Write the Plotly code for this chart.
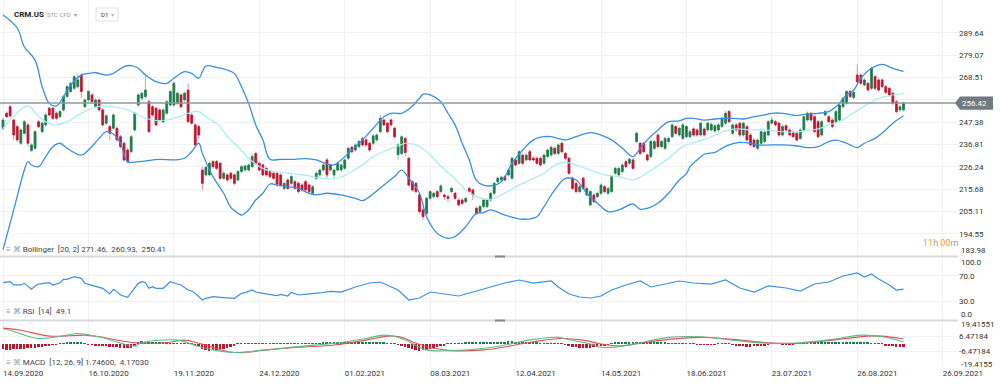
import plotly.graph_objects as go

# ---------------- data ----------------
symbol = "CRM.US"
date_labels = ["14.09.2020", "16.10.2020", "19.11.2020", "24.12.2020", "01.02.2021", "08.03.2021",
               "12.04.2021", "14.05.2021", "18.06.2021", "23.07.2021", "26.08.2021", "26.09.2021"]
bars_per_label = 24

opens = [244.5, 251.6, 254.7, 248.4, 245.3, 237.4, 242.1, 246.1, 234.0, 235.0, 247.6, 242.9, 246.1, 254.0, 254.0, 251.6,
         250.0, 253.2, 259.5, 261.9, 263.4, 264.2, 269.7, 254.7, 257.9, 260.3, 254.7, 257.9, 253.2, 246.9, 245.3, 244.5,
         244.5, 240.5, 237.4, 234.2, 233.4, 243.7, 255.5, 258.7, 259.5, 257.1, 254.7, 254.0, 253.2, 247.6, 251.6, 255.5,
         255.5, 256.3, 260.3, 257.9, 262.6, 250.8, 246.1, 245.3, 224.7, 222.4, 222.4, 228.7, 228.7, 227.9, 220.8, 222.4,
         223.2, 222.4, 220.0, 224.0, 224.7, 224.7, 226.3, 232.6, 227.9, 227.1, 225.5, 224.0, 223.2, 223.2, 222.4, 216.0,
         220.0, 218.4, 219.2, 218.4, 217.6, 219.2, 217.6, 213.7, 220.8, 222.4, 224.7, 229.5, 224.7, 222.4, 224.7, 224.7,
         225.5, 230.3, 235.5, 234.2, 235.8, 239.7, 239.0, 237.4, 237.4, 239.0, 242.9, 248.4, 246.9, 248.4, 244.5, 232.0,
         232.6, 239.7, 230.3, 219.2, 218.4, 212.9, 205.8, 204.2, 211.3, 212.1, 214.5, 214.5, 212.9, 212.1, 214.5, 213.7,
         210.5, 210.5, 209.7, 216.0, 215.3, 206.6, 205.0, 207.4, 207.4, 210.5, 213.7, 219.2, 220.0, 221.6, 222.4, 220.8,
         229.5, 227.9, 231.8, 229.5, 233.4, 230.3, 230.3, 230.3, 227.9, 231.1, 231.8, 235.0, 232.6, 237.4, 232.6, 230.3,
         220.8, 218.4, 214.5, 220.8, 212.9, 208.2, 212.9, 212.1, 213.7, 216.8, 213.7, 214.5, 223.2, 222.4, 224.0, 228.7,
         227.9, 229.5, 238.2, 237.4, 237.4, 231.8, 231.1, 235.0, 241.3, 235.8, 235.0, 238.2, 240.5, 245.3, 241.3, 239.7,
         240.5, 240.5, 244.2, 243.7, 241.3, 244.2, 243.7, 243.7, 243.2, 243.7, 245.3, 246.9, 252.4, 242.1, 246.1, 246.9,
         241.3, 245.3, 241.3, 238.9, 235.0, 237.4, 238.2, 241.3, 246.9, 247.6, 246.9, 241.3, 245.7, 243.7, 242.6, 242.1,
         239.7, 243.7, 248.4, 251.6, 250.0, 247.6, 241.3, 250.8, 250.0, 248.4, 247.6, 248.4, 254.7, 256.3, 261.9, 259.0,
         269.7, 269.7, 265.0, 265.8, 263.4, 269.0, 267.4, 267.4, 264.2, 263.4, 261.1, 257.1, 253.2, 253.2]
highs = [249.5, 252.5, 255.5, 249.0, 246.0, 244.5, 248.4, 247.0, 237.4, 243.7, 248.4, 247.6, 252.0, 254.7, 254.7, 252.4,
         253.2, 260.3, 265.0, 266.6, 269.7, 270.5, 270.5, 258.7, 262.6, 261.1, 258.7, 258.7, 254.0, 251.2, 246.1, 251.6,
         245.3, 241.3, 238.2, 235.0, 241.3, 252.4, 261.1, 261.9, 270.5, 257.9, 255.5, 254.7, 254.0, 254.0, 257.9, 262.6,
         266.6, 261.9, 261.1, 261.9, 265.8, 251.6, 246.9, 246.1, 226.3, 226.8, 228.7, 229.5, 229.5, 228.7, 224.0, 223.2,
         224.0, 223.2, 224.7, 227.1, 227.4, 227.9, 232.6, 233.4, 228.7, 227.9, 226.3, 224.7, 224.0, 224.0, 223.2, 219.2,
         220.8, 222.4, 220.0, 219.2, 218.4, 220.0, 218.4, 217.6, 224.0, 225.5, 227.9, 230.3, 227.9, 225.5, 228.7, 227.9,
         230.3, 235.8, 236.3, 237.4, 239.0, 240.5, 239.7, 238.2, 241.7, 242.1, 250.8, 249.2, 247.6, 249.2, 245.3, 237.4,
         241.3, 240.5, 231.1, 220.0, 219.2, 213.7, 206.6, 212.1, 215.3, 214.5, 215.3, 218.0, 213.7, 212.9, 216.8, 214.5,
         211.3, 211.3, 212.1, 216.8, 216.0, 207.4, 208.2, 211.3, 211.3, 214.5, 219.2, 221.6, 222.1, 222.4, 225.5, 231.1,
         230.3, 234.2, 232.6, 232.6, 234.2, 231.1, 231.1, 231.1, 232.6, 235.0, 236.3, 235.8, 237.4, 238.2, 233.4, 231.1,
         221.6, 219.2, 217.6, 221.6, 216.8, 215.3, 213.7, 214.5, 218.4, 217.6, 216.8, 222.4, 226.3, 226.3, 227.9, 229.5,
         230.6, 230.3, 242.9, 238.2, 238.2, 232.6, 239.0, 239.0, 242.1, 239.0, 240.5, 240.5, 246.9, 246.1, 245.3, 246.9,
         246.1, 243.7, 245.0, 244.5, 247.6, 245.0, 247.6, 247.2, 246.4, 246.9, 250.0, 252.7, 253.2, 246.9, 246.9, 247.6,
         247.6, 246.1, 242.1, 239.7, 239.7, 243.7, 243.4, 248.4, 250.0, 248.4, 247.6, 246.1, 246.4, 244.5, 243.4, 242.9,
         244.5, 250.8, 252.4, 252.4, 250.8, 248.4, 248.4, 253.2, 250.8, 249.2, 253.2, 256.3, 259.5, 262.6, 262.6, 262.3,
         274.8, 270.5, 268.2, 266.6, 273.7, 269.7, 268.2, 268.2, 265.0, 264.2, 261.9, 257.9, 255.5, 257.1]
lows = [243.5, 249.3, 249.5, 239.0, 238.0, 236.6, 241.5, 235.8, 233.4, 234.2, 244.5, 242.1, 245.3, 250.0, 248.4, 248.4,
        249.2, 252.4, 258.7, 261.1, 262.6, 263.4, 258.7, 254.0, 257.1, 256.3, 254.0, 252.4, 245.3, 246.1, 239.0, 243.7,
        238.2, 235.0, 228.7, 227.9, 232.6, 242.9, 254.7, 257.9, 258.7, 242.1, 250.0, 245.3, 247.6, 246.9, 250.8, 254.7,
        254.7, 255.5, 254.0, 257.1, 246.9, 246.1, 235.8, 239.5, 215.3, 221.6, 221.6, 225.5, 224.7, 220.0, 220.0, 219.2,
        220.0, 217.6, 219.2, 223.2, 224.0, 224.0, 225.5, 227.1, 224.0, 221.6, 221.6, 220.8, 220.0, 216.8, 216.8, 215.3,
        215.3, 217.6, 215.3, 213.7, 214.5, 214.5, 213.7, 213.0, 220.0, 221.6, 224.0, 220.8, 224.0, 220.8, 224.0, 224.0,
        224.7, 229.5, 232.6, 233.4, 235.0, 235.8, 235.8, 233.4, 236.6, 238.2, 242.1, 245.3, 242.1, 245.3, 239.7, 229.5,
        231.8, 231.1, 216.8, 214.5, 213.7, 204.2, 201.1, 203.4, 210.5, 211.3, 211.3, 213.7, 210.5, 209.7, 213.7, 210.5,
        207.4, 208.2, 208.9, 213.7, 210.5, 203.4, 204.2, 206.6, 206.6, 209.7, 212.9, 218.4, 219.2, 219.2, 221.6, 220.0,
        226.3, 227.1, 227.1, 228.7, 228.7, 228.7, 227.1, 226.3, 227.1, 230.3, 231.1, 231.8, 231.8, 232.6, 229.5, 222.4,
        215.3, 213.7, 213.7, 215.3, 212.1, 207.4, 208.9, 211.3, 212.9, 213.7, 212.9, 213.7, 222.4, 221.6, 223.2, 225.5,
        227.1, 224.7, 237.4, 231.8, 232.6, 228.7, 230.3, 234.2, 235.0, 235.0, 234.2, 237.4, 239.7, 241.3, 240.5, 239.0,
        239.7, 239.7, 240.5, 240.5, 240.5, 240.5, 242.9, 242.9, 242.4, 242.9, 244.5, 246.1, 246.9, 241.3, 242.9, 240.5,
        240.5, 238.2, 235.8, 235.0, 234.2, 236.6, 237.4, 240.5, 246.1, 245.3, 240.5, 240.5, 242.9, 240.5, 239.7, 238.2,
        238.9, 242.9, 247.6, 247.6, 242.1, 239.7, 240.5, 250.0, 246.9, 244.5, 246.9, 247.6, 253.9, 255.5, 258.7, 258.2,
        265.8, 265.0, 264.2, 261.9, 262.6, 262.6, 261.9, 263.4, 260.7, 259.5, 255.5, 251.6, 252.4, 252.4]
closes = [248.4, 250.0, 250.3, 241.3, 239.0, 243.7, 247.6, 237.4, 236.6, 242.9, 245.3, 246.9, 250.8, 250.8, 249.2, 249.2,
          252.4, 259.5, 264.2, 265.8, 268.9, 267.4, 261.9, 257.9, 261.9, 257.1, 257.9, 253.2, 246.1, 250.4, 242.1, 250.8,
          239.0, 235.8, 229.5, 228.7, 240.5, 251.6, 260.3, 261.1, 262.6, 242.9, 250.8, 246.1, 248.4, 253.2, 257.1, 261.9,
          265.8, 261.1, 254.7, 261.1, 247.6, 246.9, 236.6, 241.3, 218.4, 226.0, 227.9, 226.3, 225.5, 220.8, 223.2, 220.0,
          220.8, 218.4, 224.0, 226.3, 226.6, 227.1, 231.1, 227.9, 224.7, 222.4, 222.4, 221.6, 220.8, 218.0, 217.6, 218.4,
          216.0, 221.6, 216.0, 214.5, 215.3, 215.3, 214.5, 216.8, 223.2, 224.7, 227.1, 222.4, 227.1, 224.7, 227.9, 227.1,
          229.5, 235.0, 233.4, 236.6, 238.2, 236.6, 236.6, 234.2, 240.9, 241.3, 249.2, 246.1, 242.9, 246.1, 240.5, 236.6,
          240.5, 233.0, 217.6, 215.3, 214.5, 205.0, 202.6, 211.3, 214.5, 213.7, 212.1, 217.2, 212.1, 211.3, 216.0, 211.3,
          208.2, 208.9, 211.3, 214.5, 212.9, 204.2, 207.4, 210.5, 210.5, 213.7, 218.4, 220.8, 221.3, 220.0, 224.7, 230.3,
          227.1, 233.4, 227.9, 231.8, 229.5, 229.5, 227.9, 227.1, 231.8, 234.2, 235.5, 232.6, 236.6, 233.4, 230.3, 223.2,
          216.0, 214.5, 216.8, 216.0, 216.0, 214.5, 209.7, 213.7, 217.6, 214.5, 216.0, 221.6, 225.5, 225.5, 227.1, 226.3,
          229.8, 225.5, 242.1, 232.6, 233.4, 229.5, 238.2, 238.2, 235.8, 238.2, 239.7, 239.7, 246.1, 242.1, 244.5, 246.1,
          245.3, 242.9, 241.3, 241.3, 246.9, 241.3, 246.9, 246.4, 245.7, 246.1, 249.2, 251.6, 247.6, 246.1, 243.7, 241.3,
          246.9, 238.9, 236.6, 235.8, 238.9, 242.9, 242.6, 247.6, 248.4, 246.1, 241.3, 245.3, 243.7, 241.3, 240.5, 238.9,
          243.7, 250.0, 251.6, 248.4, 242.9, 240.5, 247.6, 252.4, 247.6, 245.3, 252.4, 255.5, 258.7, 261.9, 259.5, 261.5,
          266.6, 265.8, 267.4, 262.6, 272.9, 263.4, 262.6, 264.2, 261.5, 260.3, 256.3, 252.4, 254.7, 256.42]

# Bollinger (20, 2) bands, read at sample bars
bb_upper_idx = [0, 4, 6, 9, 11, 13, 15, 17, 19, 22, 24, 26, 29, 31, 34, 36, 38, 40, 43, 46, 48, 51, 53, 55, 56, 57, 60,
                63, 65, 67, 69, 71, 73, 75, 78, 82, 85, 88, 91, 93, 95, 97, 101, 104, 107, 109, 112, 114, 117, 118, 120,
                123, 125, 127, 129, 131, 133, 135, 137, 140, 143, 146, 149, 152, 154, 158, 161, 165, 168, 171, 174, 177,
                179, 181, 184, 187, 190, 192, 194, 197, 200, 202, 205, 208, 211, 214, 216, 219, 223, 225, 229, 232, 234,
                237, 239, 241, 244, 247, 250, 253]
bb_upper = [298.2, 292.0, 283.0, 276.8, 264.2, 256.3, 255.1, 259.5, 265.0, 269.7, 270.5, 270.8, 269.7, 270.5, 273.7,
            274.2, 272.9, 269.7, 266.6, 265.8, 268.2, 271.3, 270.5, 268.2, 271.3, 274.0, 273.4, 272.1, 270.5, 264.2,
            256.3, 246.1, 239.0, 229.8, 229.8, 229.8, 230.1, 229.5, 227.6, 227.1, 229.5, 232.6, 239.0, 244.5, 250.0,
            251.6, 251.6, 253.5, 258.7, 260.6, 260.3, 257.1, 251.6, 246.1, 237.4, 229.5, 219.7, 217.6, 217.2, 219.2,
            227.9, 234.2, 239.0, 240.5, 240.5, 239.0, 240.5, 242.4, 241.3, 239.0, 235.0, 231.1, 235.0, 239.0, 243.7,
            247.6, 248.0, 249.2, 249.2, 248.4, 248.9, 249.2, 249.2, 248.9, 250.0, 250.8, 251.6, 251.6, 250.5, 251.1,
            251.6, 252.4, 254.7, 260.3, 262.6, 268.2, 272.9, 274.8, 272.9, 271.46]
bb_mid_idx = [0, 7, 10, 14, 18, 22, 25, 28, 31, 35, 38, 42, 46, 50, 52, 55, 57, 61, 63, 66, 69, 73, 76, 80, 84, 88, 91,
              94, 97, 101, 104, 108, 111, 113, 116, 119, 123, 127, 130, 133, 137, 140, 144, 148, 152, 155, 158, 161,
              165, 169, 173, 177, 180, 183, 187, 191, 195, 199, 202, 206, 210, 214, 217, 221, 225, 229, 232, 235, 238,
              241, 244, 246, 249, 251, 253]
bb_mid = [244.5, 255.1, 250.0, 246.1, 247.6, 251.6, 254.0, 255.1, 254.7, 253.2, 250.8, 248.4, 248.4, 250.3, 251.6,
          252.4, 250.0, 245.3, 240.5, 235.8, 230.3, 225.5, 224.0, 223.2, 222.4, 221.3, 220.5, 220.8, 223.2, 227.1,
          231.1, 234.2, 236.1, 237.4, 236.6, 233.4, 226.5, 220.5, 215.3, 212.1, 210.8, 212.9, 216.8, 220.0, 223.2,
          227.0, 228.5, 227.1, 224.7, 222.4, 221.6, 220.0, 222.4, 225.5, 230.3, 235.8, 238.2, 240.5, 242.6, 244.2,
          243.7, 243.7, 243.2, 242.6, 243.2, 244.2, 246.1, 247.6, 250.8, 253.9, 257.1, 258.7, 259.9, 260.5, 260.93]
bb_lower_idx = [0, 3, 6, 7, 8, 10, 12, 14, 16, 18, 22, 24, 27, 29, 31, 33, 35, 38, 44, 48, 51, 53, 55, 56, 59, 62, 64,
                65, 67, 69, 71, 73, 75, 77, 80, 83, 86, 88, 91, 95, 99, 101, 103, 107, 110, 112, 114, 117, 119, 122,
                125, 127, 130, 133, 135, 137, 141, 146, 150, 152, 155, 158, 161, 164, 167, 170, 173, 177, 179, 181, 184,
                187, 190, 192, 193, 195, 197, 200, 202, 204, 207, 210, 212, 216, 219, 223, 227, 229, 232, 234, 237, 240,
                242, 245, 248, 250, 253]
bb_lower = [187.0, 205.8, 224.7, 228.7, 227.1, 226.3, 231.1, 235.8, 237.4, 235.0, 231.8, 234.2, 239.7, 242.9, 241.8,
            237.4, 228.7, 228.7, 229.8, 229.5, 230.3, 233.4, 237.4, 232.6, 221.6, 213.7, 207.0, 205.5, 203.4, 205.8,
            210.5, 213.7, 218.1, 217.6, 216.8, 216.0, 213.7, 212.9, 213.7, 212.9, 211.3, 210.2, 212.1, 217.6, 221.6,
            224.7, 220.8, 213.7, 202.6, 194.7, 192.4, 193.2, 197.9, 204.2, 204.5, 205.8, 203.4, 201.4, 202.6, 207.4,
            215.3, 220.8, 220.0, 213.7, 209.0, 205.0, 205.8, 208.6, 206.1, 206.6, 209.0, 213.7, 220.0, 223.0, 226.3,
            229.5, 232.2, 233.1, 235.0, 236.6, 237.8, 237.4, 236.6, 236.6, 236.6, 236.1, 235.3, 235.8, 238.2, 238.9,
            237.4, 235.3, 237.4, 239.7, 243.7, 246.9, 250.41]

# RSI (14), read at sample bars
rsi_idx = [0, 2, 3, 5, 6, 8, 9, 10, 13, 14, 16, 17, 18, 20, 22, 23, 24, 26, 28, 30, 31, 32, 33, 35, 36, 38, 39, 40, 41,
           42, 43, 45, 46, 47, 49, 50, 52, 53, 54, 56, 57, 59, 61, 63, 65, 67, 68, 70, 71, 73, 75, 77, 78, 80, 81, 83,
           86, 89, 92, 95, 99, 103, 106, 109, 111, 114, 117, 120, 124, 128, 133, 137, 141, 145, 149, 154, 156, 159, 162,
           165, 168, 171, 175, 179, 182, 186, 190, 194, 199, 203, 207, 211, 215, 220, 224, 228, 232, 236, 240, 242, 244,
           246, 249, 251, 253]
rsi_val = [59.2, 60.8, 55.6, 55.6, 58.2, 48.7, 54.0, 57.1, 59.2, 55.6, 59.2, 64.6, 64.6, 68.8, 66.1, 58.2, 56.6, 52.9,
           50.3, 41.3, 48.7, 45.0, 39.7, 36.0, 43.4, 58.2, 60.8, 59.2, 50.3, 52.9, 50.3, 50.3, 55.6, 60.8, 57.1, 55.6,
           47.6, 46.0, 42.3, 31.7, 34.4, 37.0, 36.0, 35.4, 34.4, 42.3, 43.4, 47.6, 44.4, 42.3, 40.7, 38.6, 40.7, 38.1,
           43.9, 39.7, 41.5, 42.9, 45.5, 44.4, 52.4, 58.7, 60.3, 52.4, 47.6, 31.7, 34.9, 44.4, 41.3, 38.1, 46.0, 52.4,
           58.7, 63.5, 58.7, 61.9, 52.4, 41.3, 36.5, 34.9, 38.1, 47.6, 55.6, 61.9, 52.4, 57.1, 61.9, 58.7, 57.1, 63.5,
           50.8, 44.4, 54.0, 50.8, 46.0, 57.1, 60.3, 69.8, 74.6, 68.3, 73.0, 65.1, 55.6, 47.6, 49.1]

# MACD (12, 26, 9)
macd_idx = [0, 2, 10, 18, 21, 27, 37, 39, 49, 55, 60, 65, 74, 83, 93, 102, 107, 112, 119, 126, 135, 140, 149, 156, 159,
            165, 168, 173, 179, 187, 196, 205, 215, 224, 233, 241, 247, 253]
macd_val = [13.0, 11.7, 4.7, 7.5, 8.9, 6.1, -1.7, 1.1, 3.3, -2.2, -5.6, -7.2, -5.0, -2.2, 0.6, 4.7, 7.5, 4.7, -5.0, -5.6,
            -3.6, -1.5, 3.9, 5.6, 3.6, 0.0, -2.8, -2.2, 1.1, 5.6, 6.1, 3.3, 0.6, 1.1, 3.9, 7.5, 6.1, 1.746]
signal_idx = [0, 5, 13, 23, 27, 37, 46, 51, 55, 65, 74, 83, 93, 102, 108, 112, 116, 121, 126, 135, 140, 149, 157, 163,
              168, 173, 179, 187, 196, 205, 215, 224, 233, 243, 247, 253]
signal_val = [13.5, 11.7, 6.7, 7.5, 6.1, 1.1, 1.1, 3.3, 0.6, -7.2, -5.0, -2.8, -0.8, 3.3, 6.7, 5.6, 0.6, -3.6, -5.6,
              -5.0, -3.0, 1.9, 4.7, 3.3, 0.0, -1.7, 0.6, 3.9, 5.6, 3.9, 1.1, 0.6, 3.3, 6.7, 6.7, 4.1703]
macd_hist = [-4.5, -4.8, -4.8, -4.6, -4.5, -4.2, -4.0, -3.8, -3.5, -3.2, -2.8, -2.2, -1.6,
             -1.0, -0.6, -0.3, 0.2,
             0.6, 0.9, 1.1, 1.2, 1.1, 0.9, 0.5,
             -0.3, -0.6, -1.0, -1.4, -1.8, -2.0, -2.3, -2.6, -2.9, -3.2, -3.4, -3.6, -3.2, -2.0,
             1.8, 2.2, 2.0, 1.8, 1.6, 1.5, 1.3, 1.2, 1.0, 0.8,
             0.7, 0.6, 0.5, 0.4, 0.3, 0.2, -0.4,
             -2.0, -4.2, -5.2, -5.6, -5.4, -5.0, -4.6, -4.0, -3.2, -2.4, -1.6,
             0.4, 0.5, 0.6, 0.6, 0.7, 0.7, 0.6, 0.6, 0.5, 0.5, 0.5, 0.4, 0.4, 0.4, 0.5,
             0.5, 0.5, 0.5, 0.6, 0.6, 0.7, 0.7, 0.8, 0.8, 0.9, 0.9, 1.0, 1.0, 1.0, 1.1,
             1.2, 1.3, 1.4, 1.5, 1.5, 1.6, 1.6, 1.6, 1.5, 1.4, 1.3, 1.1, 0.8, 0.5, 0.2,
             -0.8, -1.8, -2.8, -3.8, -4.6, -5.2, -5.6, -5.4, -5.0, -4.4, -3.6, -2.8, -2.0, -1.0,
             0.3, 0.5, 0.6, 0.7, 0.8, 0.9, 1.0, 1.1, 1.2, 1.3, 1.4, 1.5, 1.6, 1.7, 1.8,
             2.0, 2.1, 2.2, 2.2, 2.1, 2.0, 1.8, 1.6, 1.4, 1.2, 1.0, 0.8, 0.5,
             0.4, 0.3, 0.3, 0.2, 0.2, -0.3,
             -1.4, -2.2, -2.8, -3.2, -3.4, -3.4, -3.2, -2.9, -2.5, -2.0, -1.5, -0.8,
             0.6, 1.0, 1.3, 1.5, 1.6, 1.7, 1.7, 1.6, 1.5, 1.5, 1.4, 1.3, 1.2, 1.1, 1.0, 0.9, 0.8, 0.7, 0.6, 0.5,
             0.4, 0.3, 0.3, 0.2,
             -0.3, -0.4, -0.4, -0.3, -0.3, -0.3, 0.2, 0.3, 0.3, 0.2, -0.5, -1.0,
             -1.6, -2.0, -2.2, -2.2, -2.0, -1.8, -1.4, -1.0, -0.6,
             0.3, 0.3, 0.2, -0.3, -0.4, -0.4, -0.3, 0.2, 0.4,
             0.6, 0.8, 1.0, 1.1, 1.2, 1.3, 1.3, 1.4, 1.4, 1.4, 1.5, 1.5, 1.5, 1.4, 1.4, 1.3, 1.2, 1.1, 1.0, 0.8,
             0.6, 0.4, 0.2,
             -1.0, -1.6, -2.0, -2.2, -2.4, -2.4]

price_ticks = [194.55, 205.11, 215.68, 226.24, 236.81, 247.38, 257.94, 268.51, 279.07, 289.64]
price_bottom = 183.98
rsi_ticks = [30, 70]
macd_ticks = [-6.47184, 6.47184]
macd_edge = 19.41551

bb_legend = "Bollinger  [20, 2] 271.46,  260.93,  250.41"
rsi_legend = "RSI  [14]  49.1"
macd_legend = "MACD  [12, 26, 9] 1.74600,  4.17030"

# ---------------- styling ----------------
W, H = 1000, 384
M_R, M_B = 42, 17
PH = H - M_B  # plot height in px
FONT = "Roboto, Arial, sans-serif"
TXT = "#333333"
GRID = "#f1f2f3"
UP_BODY, DN_BODY = "#1d7a4b", "#be1530"
UP_WICK, DN_WICK = "#8fc3a7", "#e48c99"


def frac(px):
    return (PH - px) / PH


main_dom = [frac(256), 1.0]
rsi_dom = [frac(320), frac(257)]
macd_dom = [0.0, frac(321)]

bar_index = list(range(len(closes)))
body_hi = [max(o, c) for o, c in zip(opens, closes)]
body_lo = [min(o, c) for o, c in zip(opens, closes)]
date_ticks = [k * bars_per_label for k in range(len(date_labels))]

fig = go.Figure()

# candles: light wicks, then dark bodies on top
fig.add_trace(go.Candlestick(
    x=bar_index, open=opens, high=highs, low=lows, close=closes,
    increasing=dict(line=dict(color=UP_WICK, width=1), fillcolor=UP_WICK),
    decreasing=dict(line=dict(color=DN_WICK, width=1), fillcolor=DN_WICK),
    whiskerwidth=0, xaxis="x", yaxis="y", hoverinfo="skip", showlegend=False))
fig.add_trace(go.Candlestick(
    x=bar_index, open=opens, high=body_hi, low=body_lo, close=closes,
    increasing=dict(line=dict(color=UP_BODY, width=0.6), fillcolor=UP_BODY),
    decreasing=dict(line=dict(color=DN_BODY, width=0.6), fillcolor=DN_BODY),
    whiskerwidth=0, xaxis="x", yaxis="y", hoverinfo="skip", showlegend=False))

# Bollinger bands
fig.add_trace(go.Scatter(x=bb_mid_idx, y=bb_mid, mode="lines", line=dict(color="#a6ecf3", width=1.2, shape="spline"),
                         xaxis="x", yaxis="y", hoverinfo="skip", showlegend=False))
fig.add_trace(go.Scatter(x=bb_upper_idx, y=bb_upper, mode="lines", line=dict(color="#3a8fe2", width=1.3, shape="spline"),
                         xaxis="x", yaxis="y", hoverinfo="skip", showlegend=False))
fig.add_trace(go.Scatter(x=bb_lower_idx, y=bb_lower, mode="lines", line=dict(color="#3a8fe2", width=1.3, shape="spline"),
                         xaxis="x", yaxis="y", hoverinfo="skip", showlegend=False))

# RSI
fig.add_trace(go.Scatter(x=rsi_idx, y=rsi_val, mode="lines", line=dict(color="#3d8fe3", width=1.2),
                         xaxis="x2", yaxis="y2", hoverinfo="skip", showlegend=False))

# MACD
hist_x = list(range(len(macd_hist)))
fig.add_trace(go.Bar(x=hist_x, y=macd_hist, marker=dict(color=[UP_BODY if v >= 0 else DN_BODY for v in macd_hist],
                                                         line=dict(width=0)),
                     width=0.55, xaxis="x3", yaxis="y3", hoverinfo="skip", showlegend=False))
fig.add_trace(go.Scatter(x=signal_idx, y=signal_val, mode="lines", line=dict(color="#e0524f", width=1.1, shape="spline"),
                         xaxis="x3", yaxis="y3", hoverinfo="skip", showlegend=False))
fig.add_trace(go.Scatter(x=macd_idx, y=macd_val, mode="lines", line=dict(color="#5fb98e", width=1.1, shape="spline"),
                         xaxis="x3", yaxis="y3", hoverinfo="skip", showlegend=False))

x_range = [-0.85, 268.3]
xcommon = dict(range=x_range, tickmode="array", tickvals=date_ticks, ticktext=date_labels, showgrid=True,
               gridcolor=GRID, gridwidth=1, zeroline=False, showline=False, ticks="", fixedrange=True)
ycommon = dict(side="right", showgrid=True, gridcolor=GRID, gridwidth=1, zeroline=False, showline=False, ticks="",
               tickfont=dict(family=FONT, size=8, color=TXT), fixedrange=True)

last_close = closes[-1]
# the label of the grid level hidden under the last-price tag is left blank
price_text = ["" if abs(v - last_close) < 3 else f"{v:.2f}" for v in price_ticks]

fig.update_layout(
    width=W, height=H, margin=dict(l=0, r=M_R, t=0, b=M_B),
    paper_bgcolor="white", plot_bgcolor="white", showlegend=False, boxgap=0.28, bargap=0,
    font=dict(family=FONT, size=8, color=TXT),
    xaxis=dict(xcommon, anchor="y", showticklabels=False, rangeslider=dict(visible=False)),
    xaxis2=dict(xcommon, anchor="y2", matches="x", showticklabels=False),
    xaxis3=dict(xcommon, anchor="y3", matches="x", showticklabels=True, ticklabelposition="outside right",
                tickfont=dict(family=FONT, size=8, color=TXT)),
    yaxis=dict(ycommon, domain=main_dom, range=[price_bottom, 305.27], tickmode="array", tickvals=price_ticks,
               ticktext=price_text),
    yaxis2=dict(ycommon, domain=rsi_dom, range=[0, 100], tickmode="array", tickvals=rsi_ticks,
                ticktext=[f"{v:.1f}" for v in rsi_ticks]),
    yaxis3=dict(ycommon, domain=macd_dom, range=[-19.5, 19.5], tickmode="array", tickvals=macd_ticks,
                ticktext=[f"{v:.5f}" for v in macd_ticks]),
)

shapes = []
# last price line
shapes.append(dict(type="line", xref="paper", yref="y", x0=0, x1=0.998, y0=last_close, y1=last_close,
                   line=dict(color="#8c9a9f", width=1.5), layer="above"))
# pane separators and drag handles
for py in (256.5, 320.5):
    shapes.append(dict(type="line", xref="paper", yref="paper", x0=0, x1=1, y0=frac(py), y1=frac(py),
                       line=dict(color="#d5d9db", width=2)))
    shapes.append(dict(type="line", xref="paper", yref="paper", x0=495 / 958, x1=505 / 958, y0=frac(py), y1=frac(py),
                       line=dict(color="#7d878b", width=2)))
# price tag with pointed left end
ph = 3.1
tag_path = (f"M {955 / 958},{last_close} L {960 / 958},{last_close + ph} L {993 / 958},{last_close + ph} "
            f"L {993 / 958},{last_close - ph} L {960 / 958},{last_close - ph} Z")
shapes.append(dict(type="path", xref="paper", yref="y", path=tag_path, fillcolor="#6f7b80",
                   line=dict(width=0), layer="above"))
# D1 box
shapes.append(dict(type="rect", xref="paper", yref="paper", x0=96 / 958, x1=118 / 958, y0=frac(21), y1=frac(8),
                   line=dict(color="#dfe2e4", width=1), fillcolor="white"))
fig.update_layout(shapes=shapes)

ann = []
ann.append(dict(xref="paper", yref="y", x=974 / 958, y=last_close, text=f"{last_close:.2f}", showarrow=False,
                font=dict(family=FONT, size=8, color="white"), xanchor="center", yanchor="middle"))
ann.append(dict(xref="paper", yref="y", x=1.0, y=price_bottom, text=f"{price_bottom:.2f}", showarrow=False,
                font=dict(family=FONT, size=8, color=TXT), xanchor="left", yanchor="bottom", xshift=1, yshift=-1))
ann.append(dict(xref="paper", yref="y2", x=1.0, y=100, text="100.0", showarrow=False,
                font=dict(family=FONT, size=8, color=TXT), xanchor="left", yanchor="top", xshift=1, yshift=1))
ann.append(dict(xref="paper", yref="y2", x=1.0, y=0, text="0.0", showarrow=False,
                font=dict(family=FONT, size=8, color=TXT), xanchor="left", yanchor="bottom", xshift=1, yshift=-1))
ann.append(dict(xref="paper", yref="y3", x=1.0, y=macd_edge, text=f"{macd_edge:.5f}", showarrow=False,
                font=dict(family=FONT, size=8, color=TXT), xanchor="left", yanchor="middle", xshift=1, yshift=-3))
ann.append(dict(xref="paper", yref="y3", x=1.0, y=-macd_edge, text=f"{-macd_edge:.4f}", showarrow=False,
                font=dict(family=FONT, size=8, color=TXT), xanchor="left", yanchor="middle", xshift=1, yshift=2))
# header
ann.append(dict(xref="paper", yref="paper", x=12 / 958, y=frac(14), text=f"<b>{symbol}</b>", showarrow=False,
                font=dict(family=FONT, size=8, color="#222"), xanchor="left", yanchor="middle"))
ann.append(dict(xref="paper", yref="paper", x=45 / 958, y=frac(14), text="STC CFD  ▾", showarrow=False,
                font=dict(family=FONT, size=6, color="#9aa0a4"), xanchor="left", yanchor="middle"))
ann.append(dict(xref="paper", yref="paper", x=99 / 958, y=frac(14.5), text="D1  <span style='color:#b0b4b8'>▾</span>",
                showarrow=False, font=dict(family=FONT, size=6, color="#333"), xanchor="left", yanchor="middle"))
# countdown
ann.append(dict(xref="paper", yref="paper", x=921 / 958, y=frac(243),
                text="<span style='color:#f5a21b'>11</span>h <span style='color:#f5a21b'>00</span>m",
                showarrow=False, font=dict(family=FONT, size=9, color="#9a9a9a"), xanchor="left", yanchor="middle"))
# indicator legends
for txt, py in ((bb_legend, 249), (rsi_legend, 311), (macd_legend, 362)):
    ann.append(dict(xref="paper", yref="paper", x=4 / 958, y=frac(py),
                    text=f"<span style='color:#9aa0a4'>≡ ⌘</span> {txt}", showarrow=False,
                    font=dict(family=FONT, size=8, color="#444"), xanchor="left", yanchor="middle"))
fig.update_layout(annotations=ann)

fig.write_html("out.html", config={"displayModeBar": False},
               post_script="document.body.style.margin='0';document.body.style.overflow='hidden';")
